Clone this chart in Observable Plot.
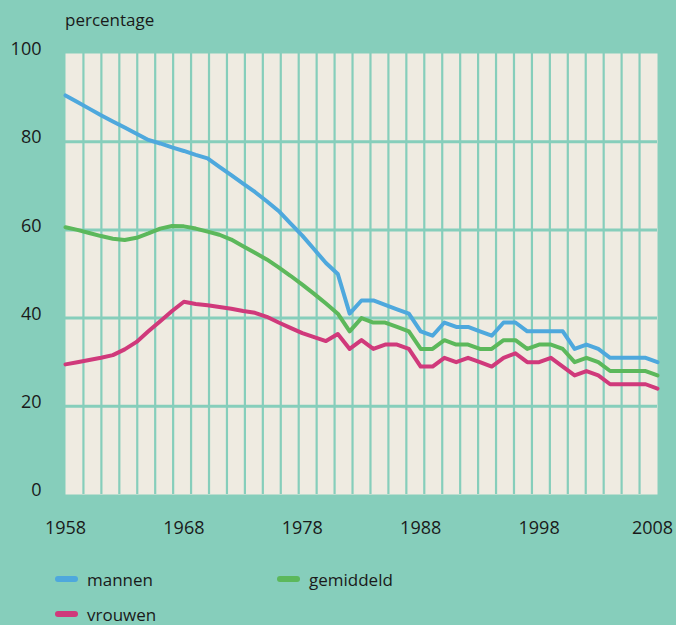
<!DOCTYPE html>
<html>
<head>
<meta charset="utf-8">
<script src="https://cdn.jsdelivr.net/npm/d3@7"></script>
<script src="https://cdn.jsdelivr.net/npm/@observablehq/plot@0.6"></script>
<style>
  html, body { margin: 0; padding: 0; background: #86cebb; width: 676px; height: 625px; overflow: hidden; font-family: "Open Sans", "Noto Sans", sans-serif; color: #1a1a1a; }
  #title { position: absolute; left: 65px; top: 0; height: 40px; line-height: 40px; font-size: 17px; z-index: 2; }
  #chart { position: absolute; left: 0; top: 0; }
  #chart svg { display: block; overflow: visible; }
  .legend-item { position: absolute; display: flex; align-items: center; font-size: 17px; height: 28px; }
  .sw { width: 23px; height: 6px; border-radius: 3px; margin-right: 9px; }
</style>
</head>
<body>
<div id="chart"></div>
<div id="title">percentage</div>
<div id="legend"></div>
<script>
const years = [1958,1959,1960,1961,1962,1963,1964,1965,1966,1967,
  1968,1969,1970,1971,1972,1973,1974,1975,1976,1977,
  1978,1979,1980,1981,1982,1983,1984,1985,1986,1987,
  1988,1989,1990,1991,1992,1993,1994,1995,1996,1997,
  1998,1999,2000,2001,2002,2003,2004,2005,2006,2007,2008];
const mannen = [90.5,89.0,87.5,86.0,84.6,83.2,81.8,80.4,79.6,78.7,
  77.9,77.0,76.2,74.3,72.4,70.5,68.6,66.5,64.3,61.5,
  58.7,55.6,52.5,50,41,44,44,43,42,41,
  37,36,39,38,38,37,36,39,39,37,
  37,37,37,33,34,33,31,31,31,31,30];
const gemiddeld = [60.6,60.0,59.3,58.6,58.0,57.7,58.2,59.2,60.3,60.9,
  60.8,60.3,59.6,58.9,57.8,56.3,54.8,53.3,51.5,49.6,
  47.6,45.5,43.3,41,37,40,39,39,38,37,
  33,33,35,34,34,33,33,35,35,33,
  34,34,33,30,31,30,28,28,28,28,27];
const vrouwen = [29.5,30.0,30.5,31.0,31.6,32.9,34.6,37.0,39.3,41.6,
  43.7,43.2,42.9,42.5,42.1,41.6,41.2,40.3,39.0,37.8,
  36.6,35.7,34.8,36.4,33,35,33,34,34,33,
  29,29,31,30,31,30,29,31,32,30,
  30,31,29,27,28,27,25,25,25,25,24];
const seriesNames = ["mannen", "gemiddeld", "vrouwen"];
const seriesColors = ["#4ea8dd", "#5cb85b", "#d0397b"];
const yTicks = [0, 20, 40, 60, 80, 100];
const xTicks = [1958, 1968, 1978, 1988, 1998, 2008];

const bg = "#86cebb";
const seriesValues = [mannen, gemiddeld, vrouwen];
const rows = seriesNames.flatMap((name, s) => years.map((year, i) => ({ series: name, year, value: seriesValues[s][i] })));
// decorative column grid: 33 equal columns across the year span
const colEdges = d3.range(34).map(i => years[0] + i * (years[years.length - 1] - years[0]) / 33);

const chart = Plot.plot({
  width: 676,
  height: 544,
  marginTop: 53,
  marginBottom: 50,
  marginLeft: 65,
  marginRight: 19,
  style: { background: "transparent", fontFamily: "'Open Sans', 'Noto Sans', sans-serif", fontSize: "18px", color: "#1a1a1a" },
  x: { domain: [1958, 2008] },
  y: { domain: [0, 100] },
  color: { domain: seriesNames, range: seriesColors },
  marks: [
    Plot.frame({ fill: "#efebe1", stroke: null }),
    Plot.ruleX(colEdges.slice(1, -1), { stroke: bg, strokeWidth: 2.2 }),
    Plot.ruleY(yTicks.slice(1, -1), { stroke: bg, strokeWidth: 3 }),
    Plot.axisY(yTicks, { tickSize: 0, tickPadding: 24, dy: -4, fontSize: 18, label: null }),
    Plot.axisX(xTicks.slice(0, -1), { tickSize: 0, tickPadding: 27, fontSize: 18, label: null, tickFormat: d => String(d) }),
    Plot.axisX(xTicks.slice(-1), { tickSize: 0, tickPadding: 27, dx: -5, fontSize: 18, label: null, tickFormat: d => String(d) }),
    Plot.line(rows, { x: "year", y: "value", z: "series", stroke: "series", strokeWidth: 4, strokeLinejoin: "round", strokeLinecap: "round" })
  ]
});
document.getElementById("chart").appendChild(chart);

const legendPos = [[55, 565], [277, 565], [55, 600]];
const legend = document.getElementById("legend");
seriesNames.forEach((name, i) => {
  const item = document.createElement("div");
  item.className = "legend-item";
  item.style.left = legendPos[i][0] + "px";
  item.style.top = legendPos[i][1] + "px";
  const sw = document.createElement("div");
  sw.className = "sw";
  sw.style.background = seriesColors[i];
  const label = document.createElement("span");
  label.textContent = name;
  item.appendChild(sw);
  item.appendChild(label);
  legend.appendChild(item);
});
</script>
</body>
</html>
